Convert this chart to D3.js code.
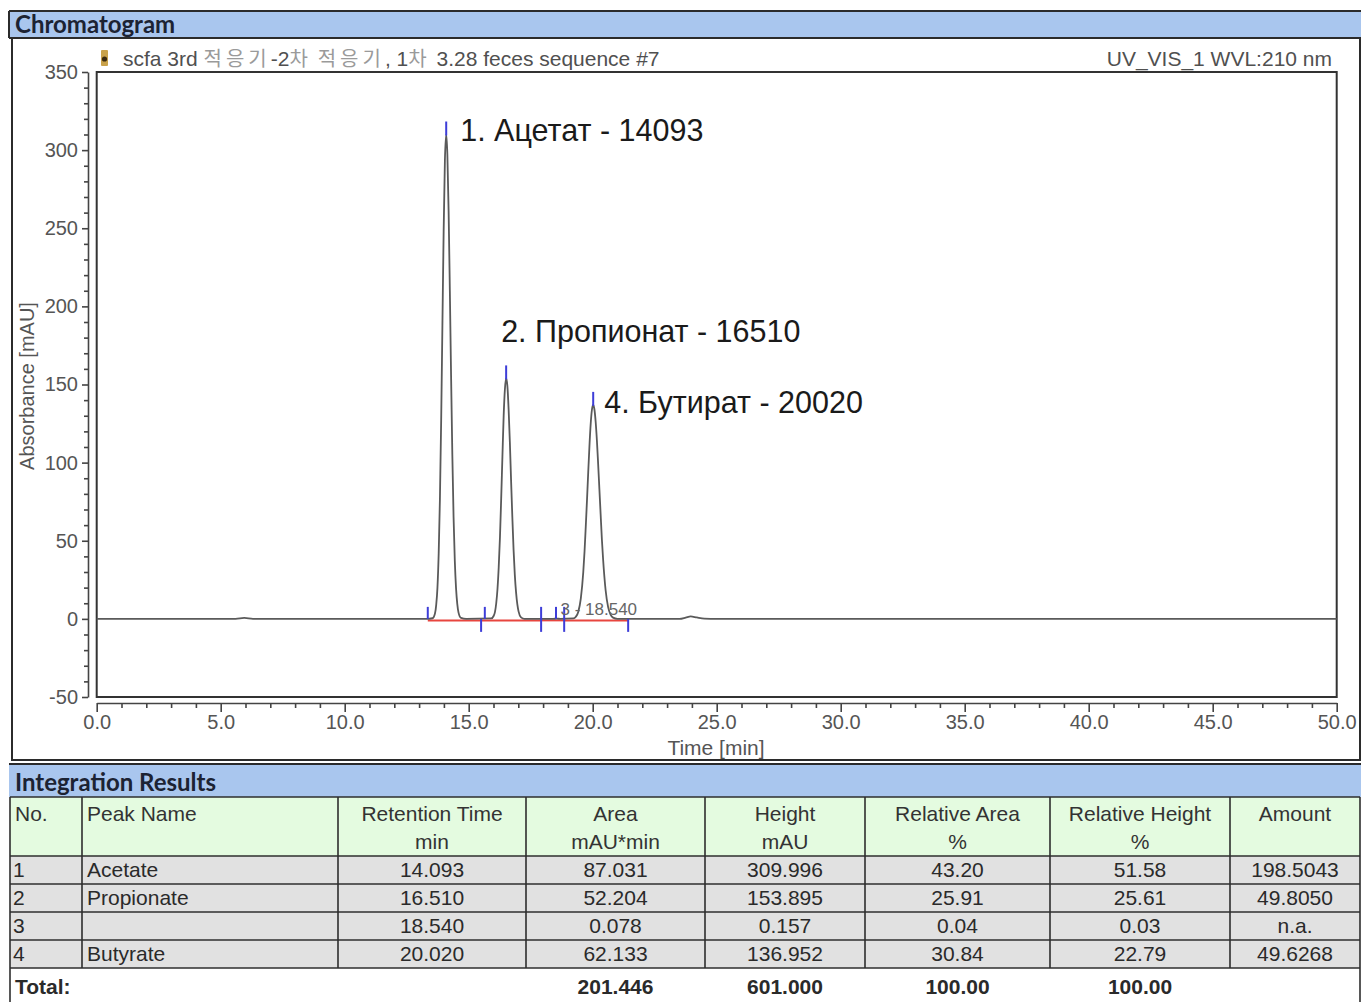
<!DOCTYPE html>
<html><head><meta charset="utf-8">
<script src="https://cdn.jsdelivr.net/npm/d3@7"></script>
<style>
body{margin:0;background:#fff;}
svg{display:block;}
text{font-family:"Liberation Sans",Arial,"Noto Sans CJK KR",sans-serif;}
</style></head><body>
<svg id="c" width="1368" height="1002"></svg>
<script>
// ---------------- DATA ----------------
const traceTime = [0,5.6,5.95,6.3,13.30,13.54,13.64,13.69,13.74,13.79,13.84,13.89,13.94,13.99,14.04,14.093,14.14,14.19,14.24,14.29,14.34,14.39,14.44,14.49,14.54,14.59,14.69,14.9,15.91,16.01,16.06,16.11,16.16,16.21,16.26,16.31,16.36,16.41,16.46,16.51,16.56,16.61,16.66,16.71,16.76,16.81,16.86,16.91,16.96,17.01,17.11,17.25,18.40,18.54,18.70,19.22,19.32,19.42,19.52,19.62,19.67,19.72,19.77,19.82,19.87,19.92,19.97,20.02,20.07,20.12,20.17,20.22,20.27,20.32,20.37,20.42,20.52,20.62,20.72,20.82,21.0,23.5,23.75,23.95,24.2,24.5,25.0,50];
const traceAbs  = [0,0,0.6,0,0,0.4,3.5,9,20,42,77,127,188,248,293,310,297,261,210,155,105,65,37,19.5,9.4,4,0.6,0,0.3,2,4.5,10,19,33,52,77,104,130,147,154,149,134,113,88,65,44,28,17,9.4,4.8,1,0,0,0.16,0,0.3,1.4,4.6,13,30,43,59,76,94,111,125,134,137,134,126,114,99,83,67,51,38,18.5,7.7,2.7,0.8,0,0,0.8,1.6,0.9,0.2,0,0];

const peakNo = [1,2,3,4];
const peakRT = [14.093,16.510,18.540,20.020];
const peakHeight = [309.996,153.895,0.157,136.952];
const peakLabels = ["1. Ацетат - 14093","2. Пропионат - 16510","3 - 18.540","4. Бутират - 20020"];

const delimTime = [13.35,15.50,15.65,17.92,18.52,18.85,21.43];
const delimKind = ["up","down","up","both","up","both","down"];
const baseStart = [13.35,15.50,17.92,18.85];
const baseEnd   = [15.50,17.92,18.85,21.43];

const xTickLabels = [0,5,10,15,20,25,30,35,40,45,50];
const yTickLabels = [-50,0,50,100,150,200,250,300,350];

const titleParts = ["scfa 3rd ","적응기","-2","차"," ","적응기",", 1","차"," 3.28 feces sequence #7"];
const channelText = "UV_VIS_1 WVL:210 nm";

const headLine1 = ["No.","Peak Name","Retention Time","Area","Height","Relative Area","Relative Height","Amount"];
const headLine2 = ["","","min","mAU*min","mAU","%","%",""];
const colNo = ["1","2","3","4"];
const colName = ["Acetate","Propionate","","Butyrate"];
const colRT = ["14.093","16.510","18.540","20.020"];
const colArea = ["87.031","52.204","0.078","62.133"];
const colHeight = ["309.996","153.895","0.157","136.952"];
const colRelArea = ["43.20","25.91","0.04","30.84"];
const colRelHeight = ["51.58","25.61","0.03","22.79"];
const colAmount = ["198.5043","49.8050","n.a.","49.6268"];
const totalRow = ["Total:","","","201.446","601.000","100.00","100.00",""];

// ---------------- LAYOUT ----------------
const svg = d3.select("#c");
const blueBar = "#a9c6ee", dark = "#2b2b2b";
svg.append("rect").attr("width",1368).attr("height",1002).attr("fill","#fff");

// Chromatogram header bar
svg.append("rect").attr("x",9).attr("y",11).attr("width",1352).attr("height",27).attr("fill",blueBar);
svg.append("line").attr("x1",9).attr("x2",1361).attr("y1",11).attr("y2",11).attr("stroke",dark).attr("stroke-width",2);
svg.append("line").attr("x1",9).attr("x2",1361).attr("y1",38).attr("y2",38).attr("stroke",dark).attr("stroke-width",2);
svg.append("line").attr("x1",9).attr("x2",9).attr("y1",11).attr("y2",38).attr("stroke",dark).attr("stroke-width",2);
svg.append("text").attr("x",15).attr("y",33).text("Chromatogram")
  .style("font-family","Lato, 'Open Sans', sans-serif").style("font-weight","bold").style("font-size","24px").attr("fill","#1c2333");

// outer chromatogram box
svg.append("rect").attr("x",12).attr("y",38).attr("width",1348).attr("height",722)
  .attr("fill","none").attr("stroke",dark).attr("stroke-width",2);

const x = d3.scaleLinear().domain([0,50]).range([96.7,1336.7]);
const y = d3.scaleLinear().domain([-50,350]).range([697,72]);

// plot box
svg.append("rect").attr("x",x(0)).attr("y",y(350)).attr("width",x(50)-x(0)).attr("height",y(-50)-y(350))
  .attr("fill","none").attr("stroke","#333").attr("stroke-width",2);

// title icon
const ic = svg.append("g").attr("transform","translate(101,50)");
ic.append("rect").attr("width",7).attr("height",16).attr("rx",1).attr("fill","#c9a24a");
ic.append("circle").attr("cx",3.5).attr("cy",9).attr("r",2.6).attr("fill","#3a2a10");

// title
const tt = svg.append("text").attr("x",123).attr("y",66).style("font-size","21px").attr("fill","#555");
titleParts.forEach((p)=>{
  const kr = /[가-힣]/.test(p);
  tt.append("tspan").text(p).attr("fill", kr ? "#9a9a9a" : "#505050")
    .style("font-size", kr ? "20px" : "21px").style("letter-spacing", kr ? "4px" : "0px");
});
svg.append("text").attr("x",1332).attr("y",66).attr("text-anchor","end").style("font-size","21px").attr("fill","#505050").text(channelText);

// axes
const axisColor = "#444";
const tickFont = "20px";
const yMinor = d3.range(-50,351,10).filter(v=>v%50!==0);
const gy = svg.append("g").attr("transform","translate(88,0)");
gy.call(d3.axisLeft(y).tickValues(yMinor).tickSize(4).tickSizeOuter(0).tickFormat(""));
gy.call(g=>g.select(".domain").remove());
const gy2 = svg.append("g").attr("transform","translate(88,0)");
gy2.call(d3.axisLeft(y).tickValues(yTickLabels).tickSize(6).tickSizeOuter(0).tickFormat(d=>String(d)).tickPadding(4));
[gy,gy2].forEach(g=>{
  g.selectAll("line").attr("stroke",axisColor).attr("stroke-width",1.6);
  g.selectAll("path").attr("stroke",axisColor).attr("stroke-width",1.6);
  g.selectAll("text").style("font-size",tickFont).attr("fill","#555").style("font-family","'Liberation Sans',Arial,sans-serif");
});

const xMinor = d3.range(0,51,1).filter(v=>v%5!==0);
const gx = svg.append("g").attr("transform","translate(0,703)");
gx.call(d3.axisBottom(x).tickValues(xMinor).tickSize(5).tickSizeOuter(0).tickFormat(""));
gx.call(g=>g.select(".domain").remove());
const gx2 = svg.append("g").attr("transform","translate(0,703)");
gx2.call(d3.axisBottom(x).tickValues(xTickLabels).tickSize(9).tickSizeOuter(0).tickFormat(d3.format(".1f")).tickPadding(3));
[gx,gx2].forEach(g=>{
  g.selectAll("line").attr("stroke",axisColor).attr("stroke-width",1.6);
  g.selectAll("path").attr("stroke",axisColor).attr("stroke-width",1.6);
  g.selectAll("text").style("font-size",tickFont).attr("fill","#555").style("font-family","'Liberation Sans',Arial,sans-serif");
});

svg.append("text").attr("x",716).attr("y",755).attr("text-anchor","middle").style("font-size","21px").attr("fill","#555").text("Time [min]");
svg.append("text").attr("transform","translate(34,386) rotate(-90)").attr("text-anchor","middle").style("font-size","20px").attr("fill","#555").text("Absorbance [mAU]");

// integration baselines (red)
const y0 = y(0);
svg.append("g").selectAll("line").data(baseStart).join("line")
  .attr("x1",(d)=>x(d)).attr("x2",(d,i)=>x(baseEnd[i]))
  .attr("y1",y0+1.5).attr("y2",y0+1.5).attr("stroke","#e8453f").attr("stroke-width",2);

// trace
const pts = traceTime.map((t,i)=>[t,traceAbs[i]]);
svg.append("path").datum(pts)
  .attr("d",d3.line().x(d=>x(d[0])).y(d=>y(d[1])).curve(d3.curveMonotoneX))
  .attr("fill","none").attr("stroke","#5a5a5a").attr("stroke-width",1.8).attr("stroke-linejoin","round");

// delimiters (blue)
const blue = "#3d3dd8";
svg.append("g").selectAll("line").data(delimTime).join("line")
  .attr("x1",d=>x(d)).attr("x2",d=>x(d))
  .attr("y1",(d,i)=>delimKind[i]==="down" ? y0 : y0-12)
  .attr("y2",(d,i)=>delimKind[i]==="up" ? y0 : y0+13)
  .attr("stroke",blue).attr("stroke-width",2);

// peak top markers & labels
const labelDx = [14,-5,4,11], labelDy = [6,-36,-4,8];
const labelSize = [30.5,30.5,17,30.5];
peakRT.forEach((rt,i)=>{
  if (i!==2) {
    svg.append("line").attr("x1",x(rt)).attr("x2",x(rt))
      .attr("y1",y(peakHeight[i])-13).attr("y2",y(peakHeight[i])+1)
      .attr("stroke",blue).attr("stroke-width",2);
  }
  svg.append("text").attr("x",x(rt)+labelDx[i]).attr("y",y(peakHeight[i])+labelDy[i])
    .style("font-size",labelSize[i]+"px").attr("fill", i===2 ? "#666" : "#1a1a1a")
    .text(peakLabels[i]);
});

// ---------------- TABLE ----------------
svg.append("rect").attr("x",9).attr("y",764).attr("width",1352).attr("height",33).attr("fill",blueBar);
svg.append("line").attr("x1",9).attr("x2",1361).attr("y1",764).attr("y2",764).attr("stroke",dark).attr("stroke-width",2);
svg.append("text").attr("x",15).attr("y",791).text("Integration Results")
  .style("font-family","Lato, 'Open Sans', sans-serif").style("font-weight","bold").style("font-size","24px").attr("fill","#1c2333");

const colEdges = [10,82,338,526,705,865,1050,1230,1360];
const align = ["start","start","middle","middle","middle","middle","middle","middle"];
const colX = colEdges.slice(0,-1).map((e,i)=> align[i]==="start" ? e+5 : (e+colEdges[i+1])/2);
const headTop = 797, headBot = 856;
const rowH = 28;
const rowTops = colNo.map((d,i)=>headBot+i*rowH);
const tableBottom = headBot + colNo.length*rowH;

svg.append("rect").attr("x",10).attr("y",headTop).attr("width",1350).attr("height",headBot-headTop).attr("fill","#e4fbe0");
rowTops.forEach(t=>{
  svg.append("rect").attr("x",10).attr("y",t).attr("width",1350).attr("height",rowH).attr("fill","#e1e1e1");
});
const grid = svg.append("g").attr("stroke","#2e2e2e").attr("stroke-width",1.6);
[headTop, headBot, ...rowTops.slice(1), tableBottom].forEach(yy=>{
  grid.append("line").attr("x1",10).attr("x2",1360).attr("y1",yy).attr("y2",yy);
});
colEdges.forEach((e,i)=>{
  grid.append("line").attr("x1",e).attr("x2",e).attr("y1",headTop).attr("y2", (i===0||i===colEdges.length-1) ? 1002 : tableBottom);
});

const tfont = "21px";
headLine1.forEach((h,i)=>{
  svg.append("text").attr("x",colX[i]).attr("y",821).attr("text-anchor",align[i]).style("font-size",tfont).attr("fill","#333").text(h);
  if (headLine2[i]) svg.append("text").attr("x",colX[i]).attr("y",849).attr("text-anchor",align[i]).style("font-size",tfont).attr("fill","#333").text(headLine2[i]);
});
const cols = [colNo,colName,colRT,colArea,colHeight,colRelArea,colRelHeight,colAmount];
cols.forEach((col,ci)=>{
  col.forEach((v,ri)=>{
    svg.append("text").attr("x", ci===0 ? colEdges[0]+3 : colX[ci]).attr("y",rowTops[ri]+21)
      .attr("text-anchor",align[ci]).style("font-size",tfont).attr("fill","#2a2a2a").text(v);
  });
});
totalRow.forEach((v,ci)=>{
  if (!v) return;
  svg.append("text").attr("x", ci===0 ? 15 : colX[ci]).attr("y",994)
    .attr("text-anchor", ci===0 ? "start" : "middle").style("font-size",tfont).style("font-weight","bold")
    .attr("fill","#2a2a2a").text(v);
});
</script>
</body></html>
